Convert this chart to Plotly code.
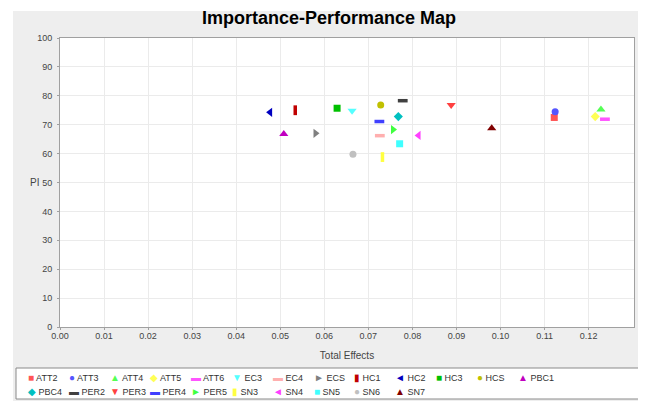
import plotly.graph_objects as go

# ---- data ----
names = ["ATT2", "ATT3", "ATT4", "ATT5", "ATT6", "EC3", "EC4", "ECS", "HC1", "HC2",
         "HC3", "HCS", "PBC1", "PBC4", "PER2", "PER3", "PER4", "PER5", "SN3", "SN4",
         "SN5", "SN6", "SN7"]
total_effects = [0.1122, 0.1124, 0.1228, 0.1215, 0.1237, 0.0663, 0.0726, 0.0580, 0.0534, 0.0477,
                 0.0629, 0.0728, 0.0508, 0.0768, 0.0778, 0.0888, 0.0725, 0.0756, 0.0732, 0.0814,
                 0.0771, 0.0665, 0.0980]
performance = [72.5, 74.5, 75.3, 72.8, 71.9, 74.8, 66.2, 67.0, 75.0, 74.3,
               75.7, 76.8, 66.8, 72.8, 78.3, 76.8, 71.1, 68.3, 58.8, 66.3,
               63.4, 59.8, 68.8]
x_ticks = [0.00, 0.01, 0.02, 0.03, 0.04, 0.05, 0.06, 0.07, 0.08, 0.09, 0.10, 0.11, 0.12]
x_tick_labels = ["0.00", "0.01", "0.02", "0.03", "0.04", "0.05", "0.06", "0.07", "0.08",
                 "0.09", "0.10", "0.11", "0.12"]
y_ticks = [0, 10, 20, 30, 40, 50, 60, 70, 80, 90, 100]

# ---- styles (JFreeChart-like default series sequence) ----
palette = ["#FF5555", "#5555FF", "#55FF55", "#FFFF55", "#FF55FF", "#55FFFF", "#FFAFAF",
           "#808080", "#C00000", "#0000C0", "#00C000", "#C0C000", "#C000C0", "#00C0C0",
           "#404040", "#FF4040", "#4040FF", "#40FF40", "#FFFF40", "#FF40FF", "#40FFFF",
           "#C0C0C0", "#800000"]
# (plotly symbol, size, line width, legend glyph)
shape_cycle = [("square", 7, 0, "■"), ("circle", 7, 0, "●"), ("triangle-up", 8, 0, "▲"),
               ("diamond", 7, 0, "◆"), ("line-ew-open", 7, 3.5, "▬"),
               ("triangle-down", 8, 0, "▼"), ("line-ew-open", 7, 3.5, "▬"),
               ("triangle-right", 8, 0, "►"), ("line-ns-open", 7, 3.5, "▮"),
               ("triangle-left", 8, 0, "◄")]

# the page body adds an 8px offset, so the figure covers the rest of the window
W, H = 638, 393
ML, MR, MT, MB = 52, 12, 30, 74
PW, PH = W - ML - MR, H - MT - MB
PER_ROW = 13
LEG_X0, LEG_PITCH = 18, 40.8
LEG_ROWS_Y = [369, 383]


def px2x(px):
    return (px - ML) / PW


def py2y(py):
    return (H - MB - py) / PH


fig = go.Figure()
legend_items = []
for i, name in enumerate(names):
    sym, size, lw, glyph = shape_cycle[i % len(shape_cycle)]
    fig.add_trace(go.Scatter(
        x=[total_effects[i]], y=[performance[i]], mode="markers", name=name,
        marker=dict(symbol=sym, size=size, color=palette[i],
                    line=dict(width=lw, color=palette[i])),
        showlegend=False,
    ))
    row, col = divmod(i, PER_ROW)
    legend_items.append(dict(
        text=f'<span style="color:{palette[i]};font-size:10px">{glyph}</span> {name}',
        x=px2x(LEG_X0 + col * LEG_PITCH), y=py2y(LEG_ROWS_Y[row]),
        xref="paper", yref="paper", xanchor="left", yanchor="middle",
        showarrow=False, font=dict(family="Liberation Sans", size=9, color="#333333"),
    ))

fig.update_layout(
    width=W, height=H,
    margin=dict(l=ML, r=MR, t=MT, b=MB, pad=0, autoexpand=False),
    paper_bgcolor="#EEEEEE", plot_bgcolor="#FFFFFF",
    font=dict(family="Liberation Sans", size=9, color="#444444"),
    showlegend=False,
    title=dict(text="<b>Importance-Performance Map</b>", x=321 / W, xref="container",
               xanchor="center", y=1 - 10 / H, yref="container", yanchor="middle",
               font=dict(family="Liberation Sans", size=18, color="#000000")),
    xaxis=dict(range=[0, 0.1303], tickvals=x_ticks, ticktext=x_tick_labels,
               showgrid=True, gridcolor="#EBEBEB", gridwidth=1, zeroline=False,
               showline=True, linecolor="#A0A0A0", linewidth=1, mirror=True,
               ticks="outside", ticklen=2, tickcolor="#A0A0A0", ticklabelstandoff=-2,
               tickfont=dict(size=9, color="#444444"),
               title=dict(text="Total Effects", standoff=12,
                          font=dict(size=10, color="#444444"))),
    yaxis=dict(range=[0, 100], tickvals=y_ticks,
               showgrid=True, gridcolor="#EBEBEB", gridwidth=1, zeroline=False,
               showline=True, linecolor="#A0A0A0", linewidth=1, mirror=True,
               ticks="outside", ticklen=2, tickcolor="#A0A0A0", ticklabelstandoff=3,
               tickfont=dict(size=9, color="#444444")),
    annotations=[dict(text="PI", x=px2x(26), y=0.5, xref="paper", yref="paper",
                      showarrow=False, xanchor="center", yanchor="middle",
                      font=dict(size=10, color="#444444"))] + legend_items,
    shapes=[
        # white surroundings of the chart image
        dict(type="rect", xref="paper", yref="paper", x0=px2x(0), x1=px2x(5),
             y0=py2y(H), y1=py2y(0), fillcolor="#FFFFFF", line=dict(width=0), layer="below"),
        dict(type="rect", xref="paper", yref="paper", x0=px2x(0), x1=px2x(W),
             y0=py2y(3), y1=py2y(0), fillcolor="#FFFFFF", line=dict(width=0), layer="below"),
        # legend frame
        dict(type="rect", xref="paper", yref="paper", x0=px2x(8), x1=px2x(634),
             y0=py2y(391), y1=py2y(360), fillcolor="#FFFFFF",
             line=dict(color="#8A8A8A", width=1), layer="below"),
    ],
)

fig.write_html("out.html")
